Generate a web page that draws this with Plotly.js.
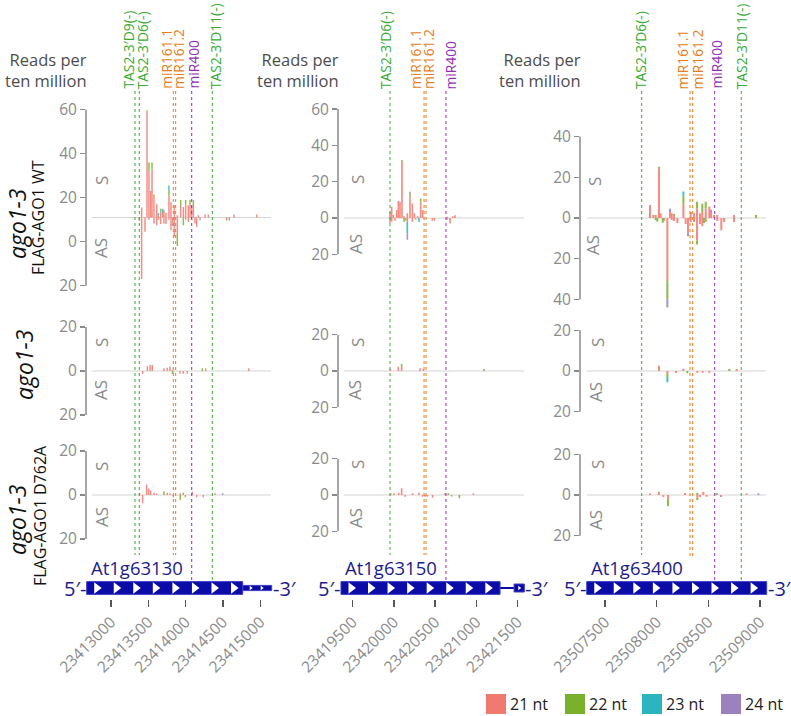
<!DOCTYPE html>
<html><head><meta charset="utf-8">
<script src="https://cdn.plot.ly/plotly-3.0.1.min.js"></script>
<style>html,body{margin:0;padding:0;background:#fff}</style>
</head><body><div id="chart" style="width:791px;height:716px"></div>
<script>
// ---------- DATA ----------
const sizeClasses = ['21 nt', '22 nt', '23 nt', '24 nt'];
const genes = ['At1g63130', 'At1g63150', 'At1g63400'];
const xTicks63130 = [23413000, 23413500, 23414000, 23414500, 23415000];
const xTicks63150 = [23419500, 23420000, 23420500, 23421000, 23421500];
const xTicks63400 = [23507500, 23508000, 23508500, 23509000];
const yTicksRow1 = [[-20, 0, 20, 40, 60], [-20, 0, 20, 40, 60], [-40, -20, 0, 20, 40]];
const yTicksSmall = [-20, 0, 20];

// gene structure (bp): coding box start/end, 3' UTR
const geneCDS = [[23412674, 23414765], [23419358, 23421288], [23507323, 23509064]];
const utr63130 = [23414765, 23415154];
const utrLine63150 = [23421288, 23421458];
const utrBox63150 = [23421458, 23421583];

// small RNA target sites
const sites63130 = ["TAS2-3′D9(-)", "TAS2-3′D6(-)", "miR161.1", "miR161.2", "miR400", "TAS2-3′D11(-)"];
const sitePos63130 = [23413322, 23413379, 23413835, 23413867, 23414082, 23414358];
const sites63150 = ["TAS2-3′D6(-)", "miR161.1", "miR161.2", "miR400"];
const sitePos63150 = [23419953, 23420366, 23420390, 23420632];
const sites63400 = ["TAS2-3′D6(-)", "miR161.1", "miR161.2", "miR400", "TAS2-3′D11(-)"];
const sitePos63400 = [23507855, 23508322, 23508348, 23508561, 23508818];

// reads per ten million: [position, S21, S22, S23, S24, AS21, AS22, AS23, AS24]
const wt_63130 = [
 [23413380,0,0,0,0, 0,1.5,0,0],[23413411,4.5,0,0,0, 28,0,0,0],[23413456,0,0,0,0, 6.5,0,0,0],
 [23413483,48.8,0,0,0, 0,0,0,0],[23413509,21,4,0,0, 1,0,0,0],[23413532,12,0,0,0, 0,0,0,0],
 [23413550,22,3,0,0, 0,0,0,0],[23413576,9.4,1,0,0, 2.7,0,0,0],[23413612,6,0,0,0, 3.5,0,0,0],
 [23413635,1,0,1,0, 1,0,0,0],[23413666,3,1,0,0, 3,0,0,0],[23413693,2,0,2,0, 0,0,0,0],
 [23413710,3.3,0,0,0, 2.7,0,0,0],[23413737,2,0,0,0, 3,0,0,0],[23413777,10,2.3,2.3,0, 1,0,0,0],
 [23413804,7,0,0,0, 5.7,0,0,0],[23413827,0,0,0,0, 2.7,0,0,1],[23413849,5.6,0,0,0, 8.8,0,0,0],
 [23413889,1,0,0,0, 7,6,0,0],[23413934,5.6,2.3,0,0, 0,0,0,0],[23413970,4.8,0,0,0, 0,3.5,0,0],
 [23414001,6,2,0,0, 1,0,0,0],[23414037,5.6,0,0,0, 2,0,0,0],[23414059,6,2,0,0, 0,0,0,0],
 [23414081,5.6,0,0,0, 1,0,0,0],[23414104,5,3,0,0, 0,0,0,0],[23414126,0,0,0,0, 2.7,0,0,0],
 [23414148,0,0,0,0, 4.2,0,0,0],[23414171,1,0,0,0, 0,0,0,0],[23414193,0,0,0,0, 1.2,0,0,0],
 [23414260,1.4,0,0,0, 0,0,0,0],[23414305,1.4,0,0,0, 0,0,0,0],[23414550,0,0,0,0, 1.4,0,0,0],
 [23414586,0,0,0,0, 0,1.4,0,0],[23414649,1.4,0,0,0, 0,0,0,0],[23414953,1.4,0,0,0, 0,0,0,0]
];
const ago_63130 = [
 [23413424,0,0,0,0, 1.4,0,0,0],[23413487,2.3,0,0,0, 0,0,0,0],[23413523,2.7,0,0,0, 0,0,0,0],
 [23413554,2.7,0,0,0, 0,0,0,0],[23413710,1.2,0,0,0, 0,0,0,0],[23413755,1.5,0,0,0, 0,0,0,0],
 [23413791,2,0,0,0, 0,0,0,0],[23413826,0.5,0,0,0, 0,1.4,0,0],[23413925,0,0,0,0, 1.2,0,0,0],
 [23413969,0,0,0,0, 1.2,0,0,0],[23414023,0,0,0,0, 1.2,0,0,0],[23414224,0,1.2,0,0, 0,0,0,0],
 [23414269,1.2,0,0,0, 0,0,0,0],[23414845,1.2,0,0,0, 0,0,0,0]
];
const d762a_63130 = [
 [23413384,0.8,0,0,0, 0,0,0,0],[23413424,0,0,0,0, 3.8,0,0,0],[23413478,4.8,0,0,0, 0,0,0,0],
 [23413505,3,0,0,0, 0,0,0,0],[23413532,2,0,0,0, 0,0,0,0],[23413576,1,0,0,0, 0,0,0,0],
 [23413612,0.7,0,0,0, 0,0,0,0],[23413710,0,1.7,0,0, 0,0,0,0],[23413755,1,0,0,0, 0,0,0,0],
 [23413791,0.7,0,0,0, 0,0,0,0],[23413835,0,0,0,0, 1,0,0,0],[23413929,0.7,0,0,0, 0,2.3,0,0],
 [23413969,0.5,0.5,0,0, 0,0,0,0],[23413996,0,0,0,0, 1,0,0,0],[23414090,1.5,0,0,0, 0,0,0,0],
 [23414148,0,0,0,0, 1,0,0,0],[23414237,0,0,0,0, 1,0,0,0],[23414394,0.8,0,0,0, 0,0,0,0],
 [23414497,0,0,0,0.8, 0,0,0,0]
];
const wt_63150 = [
 [23419953,3.5,0,0,0, 2.6,0,0,0],[23419973,6.2,0,0,0, 2,0,0,0],[23419993,1.6,0,0,0, 0,0,0,0],
 [23420013,0,0,0,0, 1.5,0,0,0],[23420034,4.4,0,0,0, 0,0,0,0],[23420054,9.4,0,0,0, 0,0,0,0],
 [23420074,9,0,0,0, 0,0,0,0],[23420098,31,1,0,0, 0,0,0,0],[23420122,1,0,0,0, 0,2,0,0],
 [23420143,0,0,0,0, 1.5,0,0,0],[23420163,2.6,0,0,0, 2,0,6.5,3.5],[23420195,11.7,1.8,0,1, 0,0,0,0],
 [23420224,8,0,0,0, 2,0,0,0],[23420248,2.6,0,0,0, 0,0,0,0],[23420264,0,0,0,0, 1,0,0,0],
 [23420288,1,0,0,0, 0,0,0,0],[23420304,0,0,0,0, 0,0,2,0],[23420325,9,1.8,0,0, 0,0,0,0],
 [23420349,4.4,0,0,0, 0,0,0,0],[23420466,0,0,0,0, 1.5,0,0,0],[23420491,0,0,0,0, 1.5,0,0,0],
 [23420648,0.7,0,0,0, 1,0,0,0],[23420681,0,0,0,0, 3,0,0,0],[23420713,1,0,0,0, 0,0,0,0],
 [23420741,1.5,0,0,0, 0,0,0,0]
];
const ago_63150 = [
 [23419957,1.1,0,0,0, 0,0,0,0],[23420054,2.4,0,0,0, 0,0,0,0],[23420094,2.4,1.5,0,0, 0,0,0,0],
 [23420317,1.5,0,0,0, 0,0,0,0],[23420357,1,0,0,0, 0,0,0,0],[23421093,0,1.1,0,0, 0,0,0,0]
];
const d762a_63150 = [
 [23419961,1,0,0,0, 0,0,0,0],[23420001,1,0,0,0, 0,0,0,0],[23420058,1.3,0,0,0, 0,0,0,0],
 [23420094,3.7,0,0,0, 0,0,0,0],[23420135,0,0,0,0, 1,0,0,0],[23420228,1,0,0,0, 0,0,0,0],
 [23420305,1.3,0,0,0, 0,0,0,0],[23420349,0,0,0,0, 1,0,0,0],[23420377,0,0,0,0, 1,0,0,0],
 [23420406,0,0,0,0, 1,0,0,0],[23420470,0,0,0,0, 1.5,0,0,0],[23420620,1,0,0,0, 0,0,0,0],
 [23420660,0,1,0,0, 0,0,0,0],[23420701,0,0,0,0, 0.8,0,0,0],[23420794,0,0,0,0, 0,1.8,0,0],
 [23420964,1,0,0,0, 0,0,0,0]
];
const wt_63400 = [
 [23507935,6.4,0,0,0, 0,0,0,0],[23507967,1.5,0,0,0, 0,0,0,0],[23507990,1.5,0,0,0, 0,1,0,0],
 [23508006,0,0,0,0, 0,1.8,0,0],[23508022,24.4,0.8,0,0, 0,0,0,0],[23508038,2.3,0,0,0, 0,0,0,0],
 [23508058,0,0,0,0, 0,2.3,0,0],[23508071,0,0,0,0, 1.5,0,0,0],[23508103,0,0,0,0, 31,9,0,4],
 [23508129,3,0,0,1.5, 0,0,0,0],[23508145,2.3,0,0,0, 1,0,0,0],[23508167,1.5,0.5,0,0, 1.5,0,0,0],
 [23508200,0,0,0,0, 2.5,0,0,0],[23508258,7,4,2,0, 0,0,0,0],[23508280,0,0,0,0, 3,0,0,0],
 [23508303,0,0,0,0, 7.5,0,0,1.5],[23508329,3,0,0,0, 2,0,0,0],[23508361,2.3,0,0,0, 2,0,0,0],
 [23508390,4.7,3.3,0,0, 11,2,0,0],[23508419,2.3,0,0,0, 3,0,0,0],[23508441,3,4,0,0, 4,0,0,0],
 [23508457,0,0,0,0, 0,2.5,0,0],[23508474,4.7,3.3,0,0, 2,0,0,0],[23508509,5.6,0,0,0, 0,0,0,0],
 [23508525,3,0,0,1, 0,0,0,0],[23508554,1.5,0,0,0, 0,0,0,0],[23508586,1.5,0,0,0, 1.5,0,0,0],
 [23508625,0,0,0,0, 6,0,0,0],[23508651,0,0,0,0, 2,0,0,0],[23508748,1.5,0,0,0, 2,0,0,0],
 [23508960,0,1.5,0,0, 0,0,0,0]
];
const ago_63400 = [
 [23508022,2.6,0,0,0, 0,0,0,0],[23508103,0,0,0,0, 1.5,1.5,2.5,0],[23508187,0,0,0,0, 1,0,0,0],
 [23508258,1.1,0,0,0, 0,0,0,0],[23508296,0,0,0,0, 0,1.1,0,0],[23508393,0,0,0,0, 0.9,0,0,0],
 [23508445,0,0,0,0, 0.9,0,0,0],[23508509,0,0,0,0, 0.9,0,0,0],[23508703,0,1,0,0, 0,0,0,0],
 [23508773,1,0,0,0, 0,0,0,0]
];
const d762a_63400 = [
 [23507935,0.8,0,0,0, 0,0,0,0],[23508022,1.6,0,0,0, 0,0,0,0],[23508064,0,0,0,0, 1,0,0,0],
 [23508109,0,0,0,0, 2.5,3,0,0],[23508274,1,0,0,0, 0,0,0,0],[23508393,0,1,0,0, 1.5,1,0,0],
 [23508419,0,0,0,0, 1,0,0,0],[23508451,1.5,0,0,0, 0,0,0,0],[23508483,0,0,0,0, 0.8,0,0,0],
 [23508580,0,1,0,0, 0,0,0,0],[23508622,0,0,0,0, 1,0,0,0],[23508870,0.8,0,0,0, 0,0,0,0],
 [23508983,0,0,0,0.8, 0,0,0,0]
];

// ---------- STYLE / LAYOUT CONSTANTS ----------
const W = 791, H = 716;
const FONT = "'Open Sans', 'DejaVu Sans', sans-serif";
const classColors = ['#f07a70', '#79b12d', '#2bb5bf', '#9c81bf'];
const siteColor = {tas: '#3aaa35', m161: '#e57c22', m400: '#8f2fb5'};
const geneBlue = '#0b0ba8', geneText = '#1c1c8a';
const px = v => v / W, py = v => 1 - v / H;
const axName = n => n === 1 ? '' : String(n);

const colAxisPx = [86, 338, 580];
const colRightPx = [274, 528, 770];
const colRanges = [[23412665, 23415185], [23419322, 23421627], [23507258, 23509096]];
const baseLineRanges = [[23412741, 23415145], [23419394, 23421579], [23507326, 23509057]];
const colScale = [2.2, 1.815, 2.035];           // px per read unit
const rowZeroPx = [[241.7, 218, 218], [371, 371, 371], [495, 495, 495]];
const baseOffset = [[11, 0, 0], [0, 0, 0], [0, 0, 0]];
const xTickSets = [xTicks63130, xTicks63150, xTicks63400];
const panelData = [[wt_63130, wt_63150, wt_63400], [ago_63130, ago_63150, ago_63400], [d762a_63130, d762a_63150, d762a_63400]];
const siteNames = [sites63130, sites63150, sites63400];
const sitePos = [sitePos63130, sitePos63150, sitePos63400];
const siteShift = [[-7.5, 3, -7.5, 2.3, 1.3, 2.7], [-5, -9, 2, 5], [-1.7, -7.5, 4.8, 1.3, 0]];
const siteReach = [[555, 555, 555, 555, 580, 580], [555, 555, 555, 580], [555, 557, 557, 580, 580]];
const sAsPos = [ // [S x, S y, AS x, AS y] per row per column
  [[101, 181, 101, 248], [357, 180, 356, 244], [594, 182, 593, 245]],
  [[101, 343, 101, 390], [357, 343, 355, 390], [597, 343, 595, 392]],
  [[101, 467, 101, 517], [357, 465, 355, 518], [597, 465, 595, 520]]
];

const traces = [], shapes = [], annotations = [];
const layout = {
  width: W, height: H, margin: {l: 0, r: 0, t: 0, b: 0},
  paper_bgcolor: '#fff', plot_bgcolor: 'rgba(0,0,0,0)',
  showlegend: false, barmode: 'overlay', font: {family: FONT}
};

function siteKind(name) {
  if (name.indexOf('TAS') === 0) return 'tas';
  if (name.indexOf('miR161') === 0) return 'm161';
  return 'm400';
}

for (let c = 0; c < 3; c++) {
  const xn = c + 1, xref = 'x' + axName(xn);
  const geneAx = c * 4 + 4;
  layout['xaxis' + axName(xn)] = {
    domain: [px(colAxisPx[c]), px(colRightPx[c])], range: colRanges[c],
    anchor: 'y' + axName(geneAx), showgrid: false, zeroline: false, showline: false,
    tickvals: xTickSets[c], ticktext: xTickSets[c].map(String),
    ticks: 'outside', ticklen: 7, tickwidth: 1.3, tickcolor: '#555',
    tickangle: -45, tickfont: {family: FONT, size: 15.5, color: '#8a8a8a'}, fixedrange: true
  };
  // gene model axis
  layout['yaxis' + axName(geneAx)] = {
    domain: [py(599), py(577)], range: [-11, 11], anchor: xref,
    showgrid: false, zeroline: false, showline: false, showticklabels: false, ticks: '', fixedrange: true
  };
  for (let r = 0; r < 3; r++) {
    const yi = c * 4 + r + 1, yref = 'y' + axName(yi);
    const ticks = r === 0 ? yTicksRow1[c] : yTicksSmall;
    const lo = ticks[0], hi = ticks[ticks.length - 1];
    const k = colScale[c], z = rowZeroPx[r][c];
    const padLo = 6, padHi = 1;
    layout['yaxis' + axName(yi)] = {
      domain: [py(z - (lo - padLo) * k), py(z - (hi + padHi) * k)],
      range: [lo - padLo, hi + padHi], anchor: xref,
      showgrid: false, zeroline: false, showline: false,
      tickvals: ticks, ticktext: ticks.map(t => String(Math.abs(t))),
      ticks: 'outside', ticklen: 5, tickwidth: 1.5, tickcolor: '#8a8a8a',
      tickfont: {family: FONT, size: 15.5, color: '#8a8a8a'}, fixedrange: true
    };
    shapes.push({type: 'line', xref: 'paper', yref: yref, x0: px(colAxisPx[c]), x1: px(colAxisPx[c]),
      y0: lo, y1: hi, line: {color: '#8a8a8a', width: 1.5}});
    const off = baseOffset[r][c];
    shapes.push({type: 'line', xref: xref, yref: yref, x0: baseLineRanges[c][0], x1: baseLineRanges[c][1],
      y0: off, y1: off, line: {color: '#d4d4d4', width: 1}, layer: 'below'});
    // stacked bars
    const rows = panelData[r][c];
    const cumS = rows.map(() => 0), cumA = rows.map(() => 0);
    for (let s = 0; s < 4; s++) {
      const xs = [], ys = [], bs = [], xa = [], ya = [], ba = [];
      rows.forEach((row, i) => {
        const v = row[1 + s], a = row[5 + s];
        if (v > 0) { xs.push(row[0]); ys.push(v); bs.push(off + cumS[i]); cumS[i] += v; }
        if (a > 0) { xa.push(row[0]); ya.push(-a); ba.push(off - cumA[i]); cumA[i] += a; }
      });
      [[xs, ys, bs], [xa, ya, ba]].forEach(([X, Y, B]) => {
        if (!X.length) return;
        traces.push({type: 'bar', x: X, y: Y, base: B, width: 20, name: sizeClasses[s],
          marker: {color: classColors[s], opacity: 0.85, line: {width: 0}},
          xaxis: xref, yaxis: yref, hoverinfo: 'skip'});
      });
    }
    // S / AS labels
    const sp = sAsPos[r][c];
    annotations.push({xref: 'paper', yref: 'paper', x: px(sp[0]), y: py(sp[1]), text: 'S', textangle: -90,
      showarrow: false, xanchor: 'center', yanchor: 'middle', font: {family: FONT, size: 17, color: '#8a8a8a'}});
    annotations.push({xref: 'paper', yref: 'paper', x: px(sp[2]), y: py(sp[3]), text: 'AS', textangle: -90,
      showarrow: false, xanchor: 'center', yanchor: 'middle', font: {family: FONT, size: 17, color: '#8a8a8a'}});
  }
  // "Reads per ten million"
  annotations.push({xref: 'paper', yref: 'paper', x: px(colAxisPx[c] + 3), y: py(70), text: 'Reads per<br>ten million',
    align: 'right', showarrow: false, xanchor: 'right', yanchor: 'middle', font: {family: FONT, size: 16.5, color: '#4d4d4d'}});
  // target site lines + labels
  siteNames[c].forEach((nm, i) => {
    const col = siteColor[siteKind(nm)];
    shapes.push({type: 'line', xref: xref, yref: 'paper', x0: sitePos[c][i], x1: sitePos[c][i],
      y0: py(91), y1: py(siteReach[c][i]), line: {color: col, width: 1, dash: 'dot'}});
    annotations.push({xref: xref, yref: 'paper', x: sitePos[c][i], xshift: siteShift[c][i], y: py(90),
      text: nm, textangle: -90, showarrow: false, xanchor: 'center', yanchor: 'bottom', borderpad: 0,
      font: {family: FONT, size: 13.8, color: col}});
  });
  // gene model
  const gyref = 'y' + axName(geneAx);
  const cds = geneCDS[c];
  let end3 = cds[1];
  if (c === 0) {
    shapes.push({type: 'rect', xref: xref, yref: gyref, x0: utr63130[0], x1: utr63130[1], y0: -2.6, y1: 2.6,
      fillcolor: geneBlue, line: {color: '#3f3fc8', width: 1}, layer: 'below'});
    end3 = utr63130[1];
  }
  if (c === 1) {
    shapes.push({type: 'line', xref: xref, yref: gyref, x0: utrLine63150[0], x1: utrLine63150[1], y0: 0, y1: 0,
      line: {color: geneBlue, width: 2}, layer: 'below'});
    shapes.push({type: 'rect', xref: xref, yref: gyref, x0: utrBox63150[0], x1: utrBox63150[1], y0: -4, y1: 4,
      fillcolor: geneBlue, line: {color: '#3f3fc8', width: 1}, layer: 'below'});
    end3 = utrBox63150[1];
  }
  shapes.push({type: 'rect', xref: xref, yref: gyref, x0: cds[0], x1: cds[1], y0: -6.4, y1: 6.4,
    fillcolor: geneBlue, line: {color: '#3f3fc8', width: 1}, layer: 'below'});
  // arrows inside coding box
  const bpPerPx = (colRanges[c][1] - colRanges[c][0]) / (colRightPx[c] - colAxisPx[c]);
  const lenPx = (cds[1] - cds[0]) / bpPerPx;
  const n = Math.floor((lenPx - 16) / 19.55) + 1;
  const tx = [];
  for (let i = 0; i < n; i++) tx.push(cds[0] + (10 + i * 19.55) * bpPerPx);
  traces.push({type: 'scatter', mode: 'markers', x: tx, y: tx.map(() => 0), xaxis: xref, yaxis: gyref,
    marker: {symbol: 'triangle-right', size: 10, color: '#fff', line: {width: 0}}, hoverinfo: 'skip', cliponaxis: false});
  if (c === 0) {
    const ux = [utr63130[0] + 8 * bpPerPx, utr63130[0] + 19 * bpPerPx];
    traces.push({type: 'scatter', mode: 'markers', x: ux, y: [0, 0], xaxis: xref, yaxis: gyref,
      marker: {symbol: 'triangle-right', size: 4, color: '#fff', line: {width: 0}}, hoverinfo: 'skip', cliponaxis: false});
  }
  if (c === 1) {
    traces.push({type: 'scatter', mode: 'markers', x: [(utrBox63150[0] + utrBox63150[1]) / 2], y: [0], xaxis: xref, yaxis: gyref,
      marker: {symbol: 'triangle-right', size: 4, color: '#fff', line: {width: 0}}, hoverinfo: 'skip', cliponaxis: false});
  }
  annotations.push({xref: xref, yref: gyref, x: cds[0], y: 0, text: "5′-", showarrow: false,
    xanchor: 'right', yanchor: 'middle', xshift: 1, font: {family: FONT, size: 20, color: geneText}});
  annotations.push({xref: xref, yref: gyref, x: end3, y: 0, text: "-3′", showarrow: false,
    xanchor: 'left', yanchor: 'middle', xshift: -1, font: {family: FONT, size: 20, color: geneText}});
  annotations.push({xref: xref, yref: 'paper', x: cds[0], xshift: 2, y: py(567), text: genes[c], showarrow: false,
    xanchor: 'left', yanchor: 'middle', font: {family: FONT, size: 18.5, color: geneText}});
}

// row labels
const rowLabelDefs = [
  ['<i>ago1-3</i>', 17, 224, 23], ['FLAG-AGO1 WT', 38, 218, 16],
  ['<i>ago1-3</i>', 24, 365, 23],
  ['<i>ago1-3</i>', 17, 520, 23], ['FLAG-AGO1 D762A', 40, 516, 16]
];
rowLabelDefs.forEach(d => annotations.push({xref: 'paper', yref: 'paper', x: px(d[1]), y: py(d[2]), text: d[0],
  textangle: -90, showarrow: false, xanchor: 'center', yanchor: 'middle', borderpad: 0,
  font: {family: FONT, size: d[3], color: '#111'}}));

// legend
const legX = [486, 565, 642, 721];
sizeClasses.forEach((nm, i) => {
  shapes.push({type: 'rect', xref: 'paper', yref: 'paper', x0: px(legX[i]), x1: px(legX[i] + 20),
    y0: py(714), y1: py(694), fillcolor: classColors[i], line: {width: 0}});
  annotations.push({xref: 'paper', yref: 'paper', x: px(legX[i] + 22), y: py(704), text: nm, showarrow: false,
    xanchor: 'left', yanchor: 'middle', font: {family: FONT, size: 16, color: '#222'}});
});

layout.shapes = shapes;
layout.annotations = annotations;
Plotly.newPlot('chart', traces, layout, {staticPlot: true, displayModeBar: false});
</script>
</body></html>
